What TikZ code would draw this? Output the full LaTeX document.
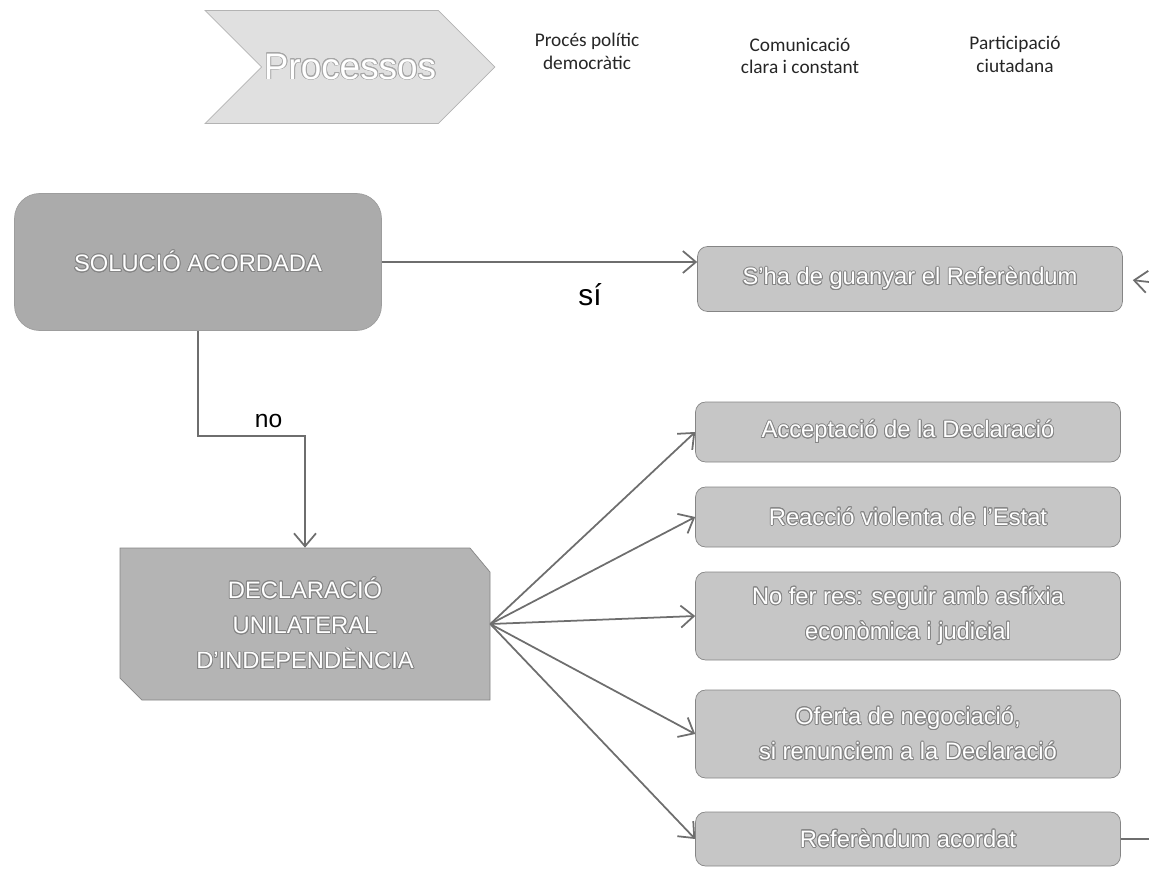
\documentclass[tikz,border=0pt]{standalone}
\usepackage{fontspec}
\setmainfont{Liberation Sans}
\newfontfamily\headfont{Carlito}
\usepackage{contour}
\contourlength{0.5pt}
\usetikzlibrary{shapes.symbols,arrows.meta}

\definecolor{chevgrey}{HTML}{E0E0E0}
\definecolor{solgrey}{HTML}{ABABAB}
\definecolor{declgrey}{HTML}{B4B4B4}
\definecolor{optgrey}{HTML}{C6C6C6}
\definecolor{edgegrey}{HTML}{858585}
\definecolor{linegrey}{HTML}{6E6E6E}
\newcommand{\wt}[1]{\contour{edgegrey}{#1}}

\begin{document}
\begin{tikzpicture}[x=0.02cm,y=-0.02cm,
  every node/.style={align=center},
  boxtext/.style={text=white,font=\fontsize{13.5}{20}\selectfont},
  optbox/.style={boxtext,draw=edgegrey,fill=optgrey,rounded corners=2mm,
                 minimum width=8.5cm,inner sep=0pt},
  arr/.style={draw=linegrey,line width=1pt,
              -{Straight Barb[length=2.6mm,width=4.4mm]}},
  head/.style={font=\headfont\fontsize{11}{13}\selectfont,text=black!85}]
\useasboundingbox (0,0) rectangle (1149,869);
% capcalera
\node (proc) [signal,signal to=east,signal from=west,signal pointer angle=90,
  fill=chevgrey,draw=chevgrey!80!black,minimum width=5.8cm,minimum height=2.26cm,
  inner sep=0pt,text=white,font=\fontsize{21}{24}\selectfont]
  at (350,67) {\contour{gray!70}{Processos}};
\node (polit) [head] at (587,51) {Procés polític\\democràtic};
\node (comun) [head] at (800,56) {Comunicació\\clara i constant};
\node (partic) [head] at (1015,54) {Participació\\ciutadana};
% esquerra
\node (sol) [boxtext,draw=edgegrey!80,fill=solgrey,rounded corners=5mm,
  minimum width=7.34cm,minimum height=2.74cm] at (198,262) {\wt{SOLUCIÓ ACORDADA}};
\fill [declgrey,draw=edgegrey] (120,548) -- (470,548) -- (490,572) -- (490,700)
  -- (142,700) -- (120,678) -- cycle;
\node (decl) [boxtext,minimum width=7.4cm,minimum height=3.04cm] at (305,624)
  {\wt{DECLARACIÓ}\\\wt{UNILATERAL}\\\wt{D'INDEPENDÈNCIA}};
% dreta
\node (guanyar) [optbox,minimum height=1.3cm] at (910,279) {\wt{S'ha de guanyar el Referèndum}};
\node (accept) [optbox,minimum height=1.2cm] at (908,432) {\wt{Acceptació de la Declaració}};
\node (reaccio) [optbox,minimum height=1.2cm] at (908,517) {\wt{Reacció violenta de l'Estat}};
\node (nofer) [optbox,minimum height=1.76cm] at (908,616)
  {\wt{No fer res: seguir amb asfíxia}\\\wt{econòmica i judicial}};
\node (oferta) [optbox,minimum height=1.76cm] at (908,734)
  {\wt{Oferta de negociació,}\\\wt{si renunciem a la Declaració}};
\node (refer) [optbox,minimum height=1.08cm] at (908,839) {\wt{Referèndum acordat}};
\coordinate (bend) at (0,436);
\coordinate (rin) at (1149,282);
\coordinate (rout) at (1149,839);
% fletxes
\draw [arr] (sol.east) -- (sol.east -| guanyar.west)
  node [pos=0.66,below=3mm,font=\fontsize{17}{20}\selectfont] (si) {sí};
\draw [arr] (sol.south) -- (sol.south |- bend) -| node [pos=0.33,above=1pt,
  font=\fontsize{14}{16}\selectfont] (no) {no} (decl.north);
\path (decl.east) edge [arr] (accept.west)
      (decl.east) edge [arr] (reaccio.west)
      (decl.east) edge [arr] (nofer.west)
      (decl.east) edge [arr] (oferta.west)
      (decl.east) edge [arr] (refer.west)
;
\draw [arr,shorten >=2mm] (rin) -- (guanyar.east);
\draw [draw=linegrey,line width=1pt] (refer.east) -- (rout);
\end{tikzpicture}
\end{document}
